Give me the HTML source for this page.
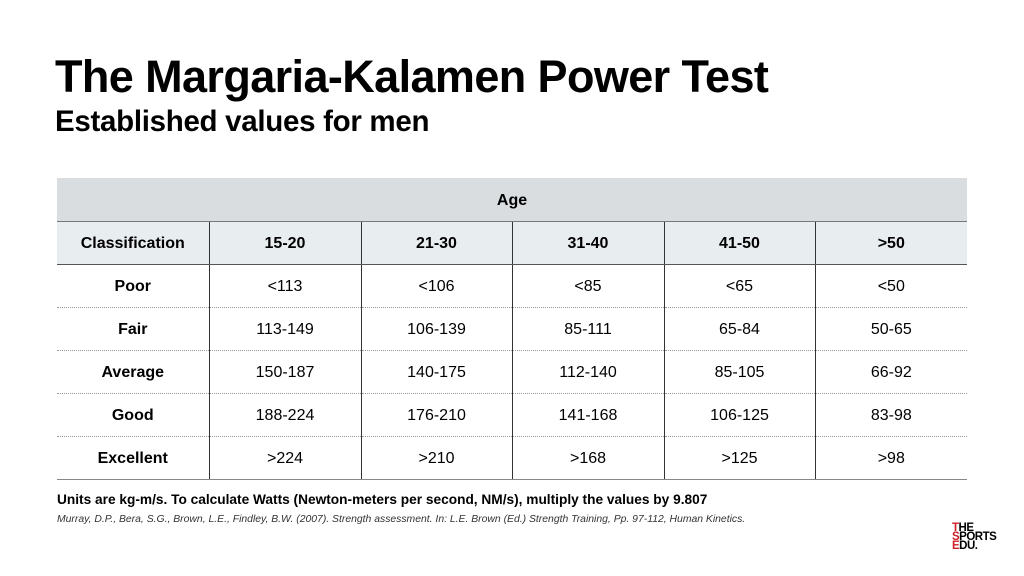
<!DOCTYPE html>
<html><head><meta charset="utf-8"><style>
body{margin:0;width:1024px;height:576px;background:#fff;font-family:"Liberation Sans",sans-serif;position:relative;overflow:hidden;color:#000}
.t{position:absolute;white-space:nowrap}
table{position:absolute;left:57px;top:178px;width:910px;border-collapse:collapse;font-size:16px;table-layout:fixed}
tr{height:43px}
td{box-sizing:border-box;height:43px;text-align:center;padding:3px 0 0 0;border-left:1px solid #333;border-bottom:1px dotted #999}
td:first-child{border-left:none;font-weight:bold}
tr.age td{background:#d9dde0;font-weight:bold;border:none;border-bottom:1px solid #777}
tr.hd td{background:#e8edf0;font-weight:bold;border-bottom:1px solid #555}
tr:last-child td{border-bottom:1px solid #888}
</style></head><body>
<div class="t" style="left:55px;top:51px;font-size:45px;font-weight:bold;letter-spacing:-0.6px">The Margaria-Kalamen Power Test</div>
<div class="t" style="left:55px;top:105px;font-size:29.5px;font-weight:bold;letter-spacing:-0.3px">Established values for men</div>
<table>
<colgroup><col style="width:152px"><col style="width:152px"><col style="width:151px"><col style="width:152px"><col style="width:151px"><col style="width:152px"></colgroup>
<tr class="age"><td colspan="6" style="font-weight:bold">Age</td></tr>
<tr class="hd"><td>Classification</td><td>15-20</td><td>21-30</td><td>31-40</td><td>41-50</td><td>&gt;50</td></tr>
<tr><td>Poor</td><td>&lt;113</td><td>&lt;106</td><td>&lt;85</td><td>&lt;65</td><td>&lt;50</td></tr>
<tr><td>Fair</td><td>113-149</td><td>106-139</td><td>85-111</td><td>65-84</td><td>50-65</td></tr>
<tr><td>Average</td><td>150-187</td><td>140-175</td><td>112-140</td><td>85-105</td><td>66-92</td></tr>
<tr><td>Good</td><td>188-224</td><td>176-210</td><td>141-168</td><td>106-125</td><td>83-98</td></tr>
<tr><td>Excellent</td><td>&gt;224</td><td>&gt;210</td><td>&gt;168</td><td>&gt;125</td><td>&gt;98</td></tr>
</table>
<div class="t" style="left:57px;top:492px;font-size:13.7px;font-weight:bold">Units are kg-m/s. To calculate Watts (Newton-meters per second, NM/s), multiply the values by 9.807</div>
<div class="t" style="left:57px;top:514px;font-size:10.4px;font-style:italic;color:#333">Murray, D.P., Bera, S.G., Brown, L.E., Findley, B.W. (2007). Strength assessment. In: L.E. Brown (Ed.) Strength Training, Pp. 97-112, Human Kinetics.</div>
<div class="t" style="left:952px;top:524px;font-size:11.5px;font-weight:bold;line-height:9px;letter-spacing:-0.5px"><span style="color:#d0202a">T</span>HE<br><span style="color:#d0202a">S</span>PORTS<br><span style="color:#d0202a">E</span>DU.</div>
</body></html>
